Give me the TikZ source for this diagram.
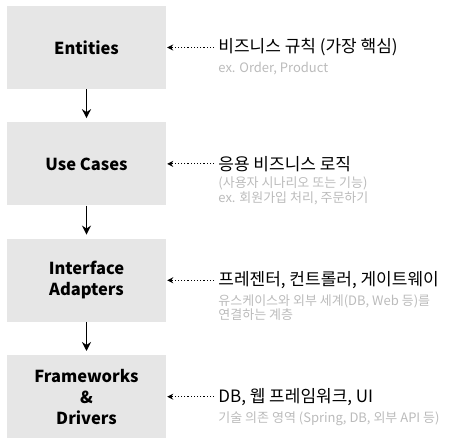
\documentclass[tikz,border=0pt]{standalone}
\usepackage{fontspec}
\setmainfont{Noto Sans CJK KR}
\usetikzlibrary{arrows.meta, positioning}
\definecolor{LayerGray}{HTML}{E6E6E6}
\definecolor{NoteGray}{HTML}{BBBBBB}

\begin{document}
\begin{tikzpicture}[x=1pt, y=1pt, >=Stealth, node distance=33pt and 52pt,
        layer/.style={rectangle, fill=LayerGray, minimum width=159pt, minimum height=83pt, align=center, font=\fontsize{16.5}{21}\selectfont\bfseries, inner sep=0pt},
        lbl/.style={inner sep=0pt, anchor=west, font=\fontsize{17}{20}\selectfont},
        note/.style={inner sep=0pt, align=left, text=NoteGray, font=\fontsize{13}{14.5}\selectfont},
        flow/.style={-{Stealth[length=9pt, width=9pt]}, line width=1.8pt, black, shorten >=4pt},
        dep/.style={-{Stealth[length=6pt, width=6pt]}, line width=1.2pt, dash pattern=on 1.2pt off 2pt, black}]

        \useasboundingbox (0,0) rectangle (464,-446);

        \node[layer] (ent) at (86.5,-47.5) {Entities};
        \node[layer, below=of ent] (uc) {Use Cases};
        \node[layer, below=of uc] (ia) {Interface\\Adapters};
        \node[layer, below=of ia] (fd) {Frameworks\\\&\\Drivers};

        \node[lbl, right=of ent] (entlbl) {비즈니스 규칙 (가장 핵심)};
        \node[lbl, right=of uc] (uclbl) {응용 비즈니스 로직};
        \node[lbl, right=of ia] (ialbl) {프레젠터, 컨트롤러, 게이트웨이};
        \node[lbl, right=of fd] (fdlbl) {DB, 웹 프레임워크, UI};

        \node[note, below right=6pt and 0pt of entlbl.south west] (entnote) {ex. Order, Product};
        \node[note, below right=5pt and 0pt of uclbl.south west] (ucnote) {(사용자 시나리오 또는 기능)\\ex. 회원가입 처리, 주문하기};
        \node[note, below right=5pt and 0pt of ialbl.south west] (ianote) {유스케이스와 외부 세계(DB, Web 등)를\\연결하는 계층};
        \node[note, below right=6pt and 0pt of fdlbl.south west] (fdnote) {기술 의존 영역 (Spring, DB, 외부 API 등)};

        \draw[flow] (ent) -- (uc);
        \draw[flow] (uc) -- (ia);
        \draw[flow] (ia) -- (fd);

        \draw[dep, shorten <=4pt, shorten >=1pt] (entlbl.west) -- (ent.east);
        \draw[dep, shorten <=4pt, shorten >=1pt] (uclbl.west) -- (uc.east);
        \draw[dep, shorten <=4pt, shorten >=1pt] (ialbl.west) -- (ia.east);
        \draw[dep, shorten <=4pt, shorten >=1pt] (fdlbl.west) -- (fd.east);
    \end{tikzpicture}
\end{document}
